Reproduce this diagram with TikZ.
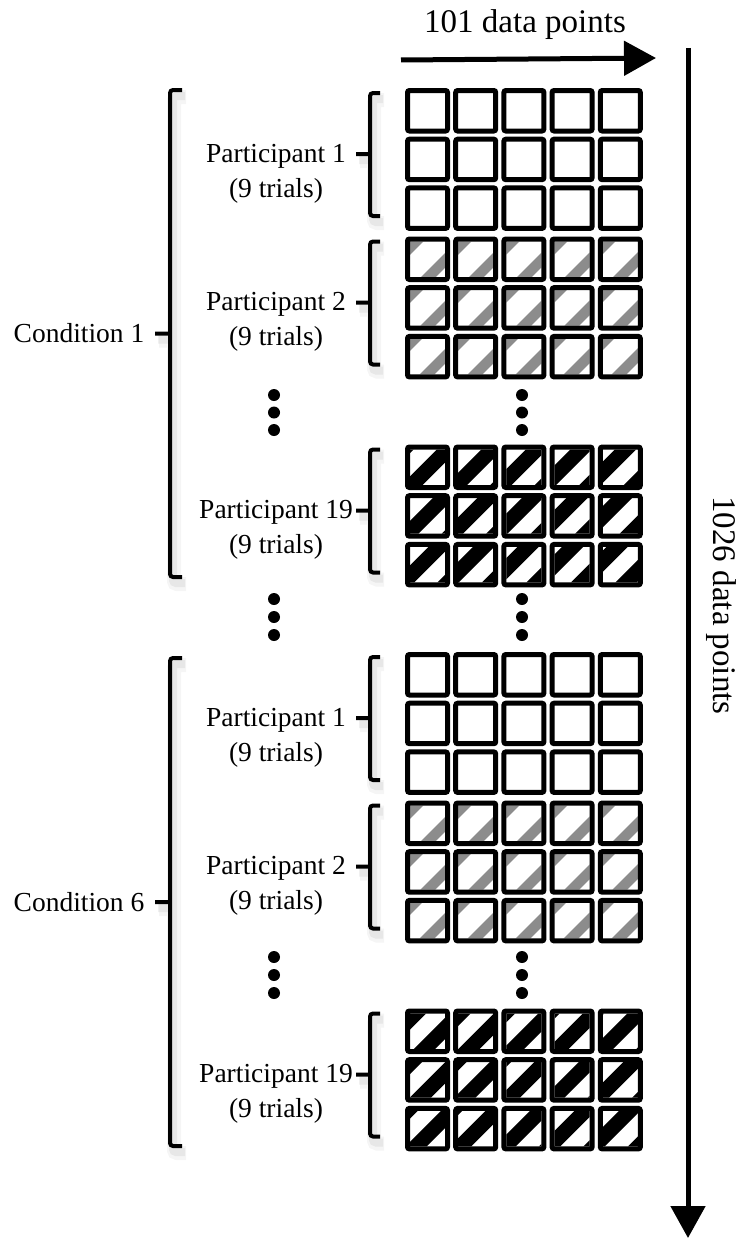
\documentclass[tikz,border=0pt]{standalone}
\usepackage{fontspec}
\setmainfont{Liberation Serif}
\usetikzlibrary{arrows.meta}
\definecolor{stripegray}{gray}{0.55}

\begin{document}
\begin{tikzpicture}[x=1pt, y=-1pt,
  cell/.style={line width=5pt, rounded corners=2pt},
  brace/.style={line width=4pt, rounded corners=3pt,
    preaction={draw=black, opacity=0.04, line width=14pt, transform canvas={shift={(4,7)}}},
    preaction={draw=black, opacity=0.06, line width=8pt, transform canvas={shift={(3,6)}}}},
  plabel/.style={font=\fontsize{27.5}{33}\selectfont, anchor=base, inner sep=0pt},
  axislabel/.style={font=\fontsize{33}{38}\selectfont, inner sep=0pt},
  dot/.style={circle, fill=black, inner sep=0pt, minimum size=12pt},
  axis/.style={line width=5pt, -{Triangle[length=32pt, width=34pt]}}]

% Fix the page size
\useasboundingbox (0,0) rectangle (743,1239);

% Define the cells of one participant (#1 = top)
\def\cells#1{%
  \foreach \i in {0,...,4}
    \foreach \j in {0,1,2}
      \draw[cell] ({407.5+48.2*\i},{#1+2.5+48.7*\j}) rectangle ({447.5+48.2*\i},{#1+43+48.7*\j});
}

% Define the hatching (#1 = top, #2 = colour, #3 = width, #4 = period, #5 = offset)
\def\stripes#1#2#3#4#5{%
  \begin{scope}
    \clip \foreach \i in {0,...,4} {\foreach \j in {0,1,2} {({410+48.2*\i},{#1+5+48.7*\j}) rectangle ({445+48.2*\i},{#1+40.5+48.7*\j})}};
    \foreach \k in {-2,...,9}
      \draw[draw=#2, line width=#3] ({425+#5+#4*\k},{#1-10}) -- ({255+#5+#4*\k},{#1+160});
  \end{scope}
}

% Draw the hatching
\stripes{236.5}{stripegray}{10.5pt}{48}{6}
\stripes{800.5}{stripegray}{10.5pt}{48}{6}
\stripes{444.5}{black}{15pt}{44.5}{37.5}
\stripes{1008.5}{black}{15pt}{44.5}{50}

% Draw the cells
\foreach \tp in {88, 236.5, 444.5, 652, 800.5, 1008.5} {
  \cells{\tp}
}

% Draw the participant braces and labels
\foreach \tp/\p/\n in {88/1/a, 236.5/2/b, 444.5/19/c, 652/1/d, 800.5/2/e, 1008.5/19/f} {
  \draw[brace] (380,{\tp+5}) -- (370,{\tp+5}) -- (370,{\tp+128}) -- (380,{\tp+128})
               (370,{\tp+66}) -- (356,{\tp+66});
  \node[plabel] (part\n) at (276,{\tp+74}) {Participant \p};
  \node[plabel] (trials\n) at (276,{\tp+109}) {(9 trials)};
}

% Draw the condition braces and labels
\foreach \a/\b/\c in {90/577/1, 658/1146/6} {
  \draw[brace] (182,\a) -- (170,\a) -- (170,\b) -- (182,\b)
               (170,{(\a+\b)/2}) -- (155,{(\a+\b)/2});
  \node[plabel] (cond\c) at (79,{(\a+\b)/2+9}) {Condition \c};
}

% Draw the dots
\foreach \x/\s in {274/L, 522/R}
  \foreach \y/\n in {395/1, 412.5/2, 430/3, 599/4, 617/5, 635/6, 957/7, 975/8, 993/9}
    \node[dot] (dot\s\n) at (\x,\y) {};

% Draw the axes
\coordinate (hstart) at (401,60);
\coordinate (hend) at (656,58);
\draw[axis] (hstart) -- (hend);
\node[axislabel, anchor=base] (hlabel) at (525,33) {101 data points};

\coordinate (vstart) at (688,48);
\coordinate (vend) at (688,1238);
\draw[axis] (vstart) -- (vend);
\node[axislabel, rotate=-90] (vlabel) at (721,605.5) {1026 data points};

\end{tikzpicture}
\end{document}
